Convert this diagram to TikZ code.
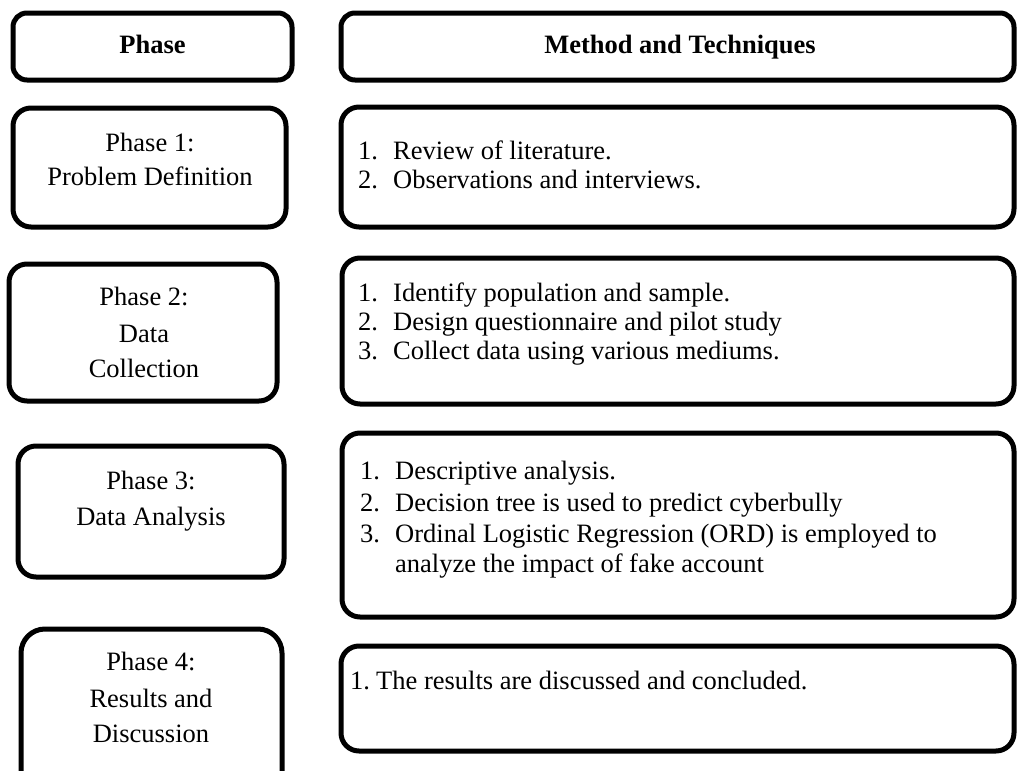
\documentclass[tikz,border=0pt]{standalone}
\usepackage{fontspec}
\setmainfont{Liberation Serif}
\begin{document}
\begin{tikzpicture}[x=1pt,y=-1pt,
  box/.style={draw=black, line width=5pt, rounded corners=18pt, inner sep=0pt},
  txt/.style={inner sep=0pt, anchor=base, font=\fontsize{26.5}{30}\selectfont},
  hdr/.style={inner sep=0pt, anchor=base, font=\fontsize{26.5}{30}\selectfont\bfseries},
  item/.style={inner sep=0pt, anchor=base west, font=\fontsize{26.5}{30}\selectfont}]
\useasboundingbox (0,0) rectangle (1018,771);
\clip (0,0) rectangle (1018,771);
% boxes
\node[box, rounded corners=14pt, minimum width=279pt, minimum height=67pt] (h0) at (152.5,46.5) {};
\node[box, rounded corners=14pt, minimum width=673pt, minimum height=67pt] (h1) at (677.5,46.5) {};
\node[box, minimum width=273pt, minimum height=119pt] (p1) at (149.5,167.5) {};
\node[box, minimum width=673pt, minimum height=120pt] (m1) at (677.5,167) {};
\node[box, minimum width=268pt, minimum height=137pt] (p2) at (143,332.5) {};
\node[box, minimum width=672pt, minimum height=146pt] (m2) at (678,331) {};
\node[box, minimum width=266pt, minimum height=131pt] (p3) at (151,511.5) {};
\node[box, minimum width=672pt, minimum height=184pt] (m3) at (678,525) {};
\node[box, rounded corners=24pt, minimum width=261pt, minimum height=171pt] (p4) at (151.5,714.5) {};
\node[box, minimum width=673pt, minimum height=105pt] (m4) at (677.5,698.5) {};
% headers
\node[hdr] (t0) at (152.5,53) {Phase};
\node[hdr] (t1) at (680,53) {Method and Techniques};
% phase texts
\node[txt] (p1a) at (150,151) {Phase 1:};
\node[txt] (p1b) at (150,185) {Problem Definition};
\node[txt] (p2a) at (144,305) {Phase 2:};
\node[txt] (p2b) at (144,342) {Data};
\node[txt] (p2c) at (144,377) {Collection};
\node[txt] (p3a) at (151,489) {Phase 3:};
\node[txt] (p3b) at (151,525) {Data Analysis};
\node[txt] (p4a) at (151,670) {Phase 4:};
\node[txt] (p4b) at (151,707) {Results and};
\node[txt] (p4c) at (151,742) {Discussion};
% method texts
\node[item] (m1a) at (358,159) {\makebox[35pt][l]{1.}Review of literature.};
\node[item] (m1b) at (358,188) {\makebox[35pt][l]{2.}Observations and interviews.};
\node[item] (m2a) at (358,301) {\makebox[35pt][l]{1.}Identify population and sample.};
\node[item] (m2b) at (358,330) {\makebox[35pt][l]{2.}Design questionnaire and pilot study};
\node[item] (m2c) at (358,359) {\makebox[35pt][l]{3.}Collect data using various mediums.};
\node[item] (m3a) at (360,479) {\makebox[35pt][l]{1.}Descriptive analysis.};
\node[item] (m3b) at (360,511) {\makebox[35pt][l]{2.}Decision tree is used to predict cyberbully};
\node[item] (m3c) at (360,542) {\makebox[35pt][l]{3.}Ordinal Logistic Regression (ORD) is employed to};
\node[item] (m3d) at (395,572) {analyze the impact of fake account};
\node[item] (m4a) at (350,689) {\makebox[26pt][l]{1.}The results are discussed and concluded.};
\end{tikzpicture}
\end{document}
